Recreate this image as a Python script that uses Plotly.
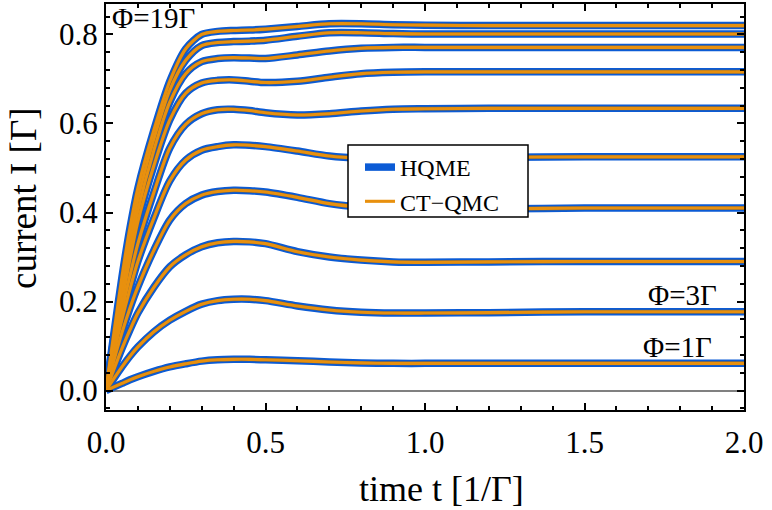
import plotly.graph_objects as go

# time grid [1/Gamma]
t = [0, 0.025, 0.05, 0.075, 0.1, 0.15, 0.2, 0.25, 0.3, 0.35, 0.4, 0.45, 0.5,
     0.6, 0.7, 0.8, 0.9, 1.0, 1.2, 1.5, 2.0]

phi_labels = [1, 3, 5, 7, 9, 11, 13, 15, 17, 19]

I_phi1 = [0, 0.008, 0.016, 0.024, 0.031, 0.043, 0.053, 0.060, 0.066, 0.069, 0.070, 0.070, 0.069, 0.067, 0.064, 0.062, 0.061, 0.061, 0.061, 0.061, 0.061]
I_phi3 = [0, 0.027, 0.053, 0.077, 0.098, 0.132, 0.158, 0.178, 0.194, 0.202, 0.205, 0.205, 0.202, 0.190, 0.181, 0.176, 0.174, 0.174, 0.175, 0.177, 0.177]
I_phi5 = [0, 0.048, 0.094, 0.136, 0.174, 0.232, 0.278, 0.305, 0.323, 0.332, 0.335, 0.334, 0.330, 0.312, 0.300, 0.293, 0.289, 0.288, 0.289, 0.290, 0.290]
I_phi7 = [0, 0.068, 0.130, 0.185, 0.233, 0.315, 0.383, 0.420, 0.439, 0.447, 0.450, 0.449, 0.446, 0.434, 0.420, 0.412, 0.408, 0.407, 0.408, 0.410, 0.410]
I_phi9 = [0, 0.085, 0.160, 0.228, 0.290, 0.387, 0.471, 0.518, 0.540, 0.548, 0.552, 0.551, 0.548, 0.538, 0.527, 0.522, 0.521, 0.522, 0.524, 0.525, 0.525]
I_phi11 = [0, 0.095, 0.180, 0.258, 0.330, 0.445, 0.545, 0.598, 0.622, 0.631, 0.632, 0.629, 0.624, 0.619, 0.622, 0.628, 0.632, 0.633, 0.634, 0.634, 0.634]
I_phi13 = [0, 0.105, 0.200, 0.295, 0.380, 0.505, 0.608, 0.668, 0.691, 0.697, 0.698, 0.695, 0.692, 0.695, 0.704, 0.712, 0.715, 0.716, 0.716, 0.716, 0.716]
I_phi15 = [0, 0.112, 0.218, 0.318, 0.405, 0.540, 0.648, 0.712, 0.739, 0.746, 0.748, 0.747, 0.746, 0.754, 0.763, 0.769, 0.771, 0.771, 0.771, 0.771, 0.771]
I_phi17 = [0, 0.120, 0.232, 0.340, 0.430, 0.565, 0.675, 0.742, 0.775, 0.782, 0.784, 0.785, 0.787, 0.796, 0.804, 0.804, 0.802, 0.801, 0.801, 0.801, 0.801]
I_phi19 = [0, 0.130, 0.255, 0.365, 0.455, 0.585, 0.695, 0.768, 0.800, 0.807, 0.809, 0.810, 0.812, 0.818, 0.824, 0.824, 0.822, 0.821, 0.820, 0.820, 0.820]

hqme = [I_phi1, I_phi3, I_phi5, I_phi7, I_phi9, I_phi11, I_phi13, I_phi15, I_phi17, I_phi19]
ctqmc = [I_phi1, I_phi3, I_phi5, I_phi7, I_phi9, I_phi11, I_phi13, I_phi15, I_phi17, I_phi19]

x_ticks = [0.0, 0.5, 1.0, 1.5, 2.0]
y_ticks = [0.0, 0.2, 0.4, 0.6, 0.8]

BLUE = "#0B5BD5"
ORANGE = "#E8900E"
DARK = "#5e5e5e"
FONT = "Liberation Serif"

fig = go.Figure()

for i, y in enumerate(hqme):
    fig.add_trace(go.Scatter(x=t, y=y, mode="lines", name="HQME", legendgroup="hqme",
                             showlegend=(i == 0),
                             line=dict(color=BLUE, width=7.5, shape="spline", smoothing=0.8)))
for y in hqme:
    fig.add_trace(go.Scatter(x=t, y=y, mode="lines", showlegend=False, hoverinfo="skip",
                             line=dict(color=DARK, width=4.0, shape="spline", smoothing=0.8)))
for i, y in enumerate(ctqmc):
    fig.add_trace(go.Scatter(x=t, y=y, mode="lines", name="CT\u2212QMC", legendgroup="ct",
                             showlegend=(i == 0),
                             line=dict(color=ORANGE, width=3.1, shape="spline", smoothing=0.8)))

axis_common = dict(showline=True, linecolor="black", linewidth=2, mirror="ticks",
                   ticks="inside", ticklen=7, tickwidth=2, tickcolor="black",
                   showgrid=False, automargin=False,
                   tickfont=dict(family=FONT, size=31, color="black"))

fig.update_xaxes(range=[0, 2.0], tickvals=x_ticks, ticktext=[f"{v:.1f}" for v in x_ticks],
                 minor=dict(ticks="inside", ticklen=4, tickwidth=1.5, tickcolor="black", dtick=0.1,
                            showgrid=False),
                 zeroline=False, ticklabelstandoff=4, **axis_common)
fig.update_yaxes(range=[-0.0438, 0.8685], tickvals=y_ticks, ticktext=[f"{v:.1f}" for v in y_ticks],
                 minor=dict(ticks="inside", ticklen=4, tickwidth=1.5, tickcolor="black", dtick=0.04,
                            tick0=0, showgrid=False),
                 zeroline=True, zerolinecolor="#808080", zerolinewidth=1.5, **axis_common)

W, H = 772, 510
L, R, T, B = 106, 28, 4, 100
pw, ph = W - L - R, H - T - B

def px_to_paper_x(px):
    return (px - L) / pw

def py_to_paper_y(py):
    return 1 - (py - T) / ph

title_font = dict(family=FONT, size=36, color="black")
fig.add_annotation(x=px_to_paper_x(441), y=py_to_paper_y(489), xref="paper", yref="paper",
                   text="time t [1/\u0393]", showarrow=False, xanchor="center", yanchor="middle",
                   font=title_font)
fig.add_annotation(x=px_to_paper_x(23), y=py_to_paper_y(198), xref="paper", yref="paper",
                   text="current I [\u0393]", textangle=-90, showarrow=False,
                   xanchor="center", yanchor="middle", font=dict(family=FONT, size=37, color="black"))

ann_font = dict(family=FONT, size=29, color="black")
fig.add_annotation(x=0.012, y=0.838, xref="x", yref="y", text="\u03a6=19\u0393", showarrow=False,
                   xanchor="left", yanchor="middle", font=ann_font)
fig.add_annotation(x=1.806, y=0.215, xref="x", yref="y", text="\u03a6=3\u0393", showarrow=False,
                   xanchor="center", yanchor="middle", font=ann_font)
fig.add_annotation(x=1.79, y=0.098, xref="x", yref="y", text="\u03a6=1\u0393", showarrow=False,
                   xanchor="center", yanchor="middle", font=ann_font)

# legend frame
fig.add_shape(type="rect", xref="paper", yref="paper",
              x0=px_to_paper_x(348), x1=px_to_paper_x(528),
              y0=py_to_paper_y(217), y1=py_to_paper_y(145),
              fillcolor="white", line=dict(color="black", width=1.5), layer="above")

fig.update_layout(
    width=W, height=H,
    margin=dict(l=L, r=R, t=T, b=B, autoexpand=False),
    paper_bgcolor="white", plot_bgcolor="white",
    legend=dict(x=px_to_paper_x(360), y=py_to_paper_y(145), xanchor="left", yanchor="top",
                bgcolor="rgba(0,0,0,0)", borderwidth=0,
                font=dict(family=FONT, size=24, color="black"),
                tracegroupgap=0, itemwidth=30),
)

fig.write_html("out.html", config={"displayModeBar": False},
               post_script="document.body.style.margin='0px';")
